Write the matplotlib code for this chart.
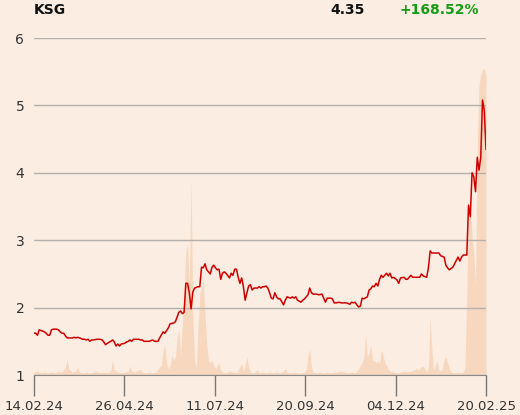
import matplotlib
matplotlib.use("Agg")
import matplotlib.pyplot as plt
import numpy as np

# ---- data ----
price_days = [0,1,2,3,5,6,7,8,9,10,11,13,14,15,16,17,18,19,21,22,23,24,25,26,28,29,30,31,32,33,34,36,37,38,39,40,41,42,44,45,46,47,48,49,50,52,53,54,55,56,57,58,60,61,62,63,64,65,66,68,69,71,72,74,75,77,78,80,81,82,83,84,85,86,87,88,89,90,91,92,94,95,96,97,98,99,100,101,102,103,104,105,106,107,108,109,110,112,113,114,115,116,117,118,119,120,121,122,123,124,125,126,128,129,130,131,132,133,134,135,136,137,138,139,140,141,143,144,145,147,148,149,150,151,153,154,155,157,158,159,160,162,163,165,166,167,168,170,171,172,173,175,176,178,179,181,182,183,184,185,186,187,188,189,191,192,193,194,195,196,197,198,199,200,202,203,204,205,206,208,209,210,212,213,214,216,217,219,221,222,223,225,226,227,228,230,232,233,235,236,237,238,240,241,243,244,245,246,248,249,250,251,252,253,254,255,256,257,258,259]
price = [1.62,1.62,1.59,1.67,1.65,1.64,1.62,1.59,1.59,1.67,1.68,1.68,1.67,1.64,1.62,1.62,1.58,1.55,1.55,1.55,1.56,1.55,1.56,1.55,1.53,1.53,1.52,1.53,1.50,1.52,1.52,1.53,1.53,1.53,1.52,1.49,1.45,1.47,1.50,1.52,1.49,1.43,1.46,1.43,1.46,1.47,1.49,1.50,1.52,1.50,1.53,1.53,1.53,1.52,1.52,1.50,1.50,1.50,1.50,1.52,1.50,1.50,1.55,1.64,1.62,1.70,1.76,1.77,1.79,1.86,1.93,1.95,1.91,1.93,2.36,2.36,2.22,1.98,2.23,2.29,2.31,2.31,2.60,2.59,2.65,2.56,2.53,2.50,2.60,2.63,2.59,2.56,2.57,2.42,2.51,2.53,2.51,2.44,2.51,2.48,2.57,2.57,2.45,2.36,2.44,2.31,2.11,2.22,2.32,2.34,2.26,2.29,2.29,2.31,2.29,2.31,2.31,2.32,2.29,2.22,2.14,2.13,2.22,2.16,2.13,2.13,2.04,2.11,2.16,2.14,2.16,2.14,2.16,2.11,2.08,2.11,2.13,2.19,2.29,2.22,2.20,2.20,2.19,2.20,2.14,2.08,2.14,2.14,2.13,2.07,2.07,2.08,2.07,2.07,2.07,2.05,2.08,2.07,2.08,2.04,2.01,2.02,2.14,2.13,2.16,2.26,2.28,2.32,2.31,2.36,2.32,2.42,2.48,2.45,2.51,2.47,2.51,2.44,2.45,2.41,2.36,2.44,2.45,2.42,2.42,2.48,2.45,2.45,2.45,2.50,2.47,2.45,2.59,2.84,2.81,2.81,2.81,2.77,2.75,2.63,2.59,2.56,2.60,2.65,2.75,2.69,2.75,2.78,2.78,3.52,3.35,4.00,3.94,3.72,4.23,4.04,4.23,5.08,4.93,4.35]

vol_days = [0,2,4,6,8,10,12,14,16,18,19,20,22,24,25,26,28,30,32,34,36,38,40,42,44,45,46,48,50,52,54,55,56,58,60,61,62,64,66,68,70,72,73,74,75,76,77,78,79,80,81,82,83,84,85,86,87,88,89,90,91,92,93,94,95,96,97,98,99,100,101,102,103,104,105,106,107,108,110,112,114,116,118,119,120,121,122,123,124,126,128,129,131,133,135,137,139,141,143,144,145,147,149,151,153,155,156,157,158,159,160,162,164,166,168,170,172,174,176,178,180,182,184,186,187,188,189,190,191,192,193,194,195,196,197,198,199,200,201,202,203,204,206,208,210,212,214,216,218,219,220,222,223,224,225,226,227,228,229,230,231,232,233,234,235,236,237,238,239,241,243,244,246,247,248,249,250,251,252,253,254,255,256,257,258,259]
volume = [3,4,2,3,2,3,2,4,3,8,16,6,3,4,8,3,2,3,2,3,4,2,3,2,4,15,5,3,2,3,4,9,4,3,5,6,3,2,3,2,3,8,10,25,30,12,6,10,20,15,18,38,45,20,50,80,125,130,90,196,60,15,8,50,80,88,95,60,30,15,12,15,10,6,10,12,5,3,2,4,3,2,8,12,4,10,18,8,3,2,5,2,3,2,3,2,3,2,4,7,3,2,3,2,2,3,6,20,26,8,3,2,3,2,3,2,3,3,4,3,2,3,2,6,10,12,18,40,18,22,30,14,15,12,14,12,25,20,12,10,6,4,3,2,3,4,3,4,5,7,5,8,9,6,3,8,57,25,5,10,14,5,4,6,15,18,12,6,3,2,3,2,3,8,85,165,175,140,120,90,230,290,300,305,307,300]

tick_labels = ["14.02.24", "26.04.24", "11.07.24", "20.09.24", "04.12.24", "20.02.25"]
y_ticks = [1, 2, 3, 4, 5, 6]
title = "KSG"
last_price = "4.35"
change = "+168.52%"

# ---- style ----
bg = "#FBEDE1"
fig = plt.figure(figsize=(5.2, 4.15), dpi=100, facecolor=bg)
ax = fig.add_axes([34/520, 40/415, 452/520, 337/415])
axv = ax.twinx()
ax.set_zorder(axv.get_zorder() + 1)
ax.patch.set_visible(False)
axv.set_facecolor(bg)

axv.fill_between(vol_days, volume, 0, color="#F7D6BC", lw=0, alpha=0.9)
axv.set_ylim(0, 337)
axv.set_yticks([])
for s in axv.spines.values():
    s.set_visible(False)

ax.plot(price_days, price, color="#D10000", lw=1.1, zorder=3)

n = price_days[-1]
ax.set_xlim(0, n)
ax.set_ylim(1, 6)
ax.set_yticks(y_ticks)
ax.set_yticklabels([str(v) for v in y_ticks])
ax.set_xticks(np.linspace(0, n, len(tick_labels)))
ax.set_xticklabels(tick_labels)
ax.grid(axis="y", color="#B5B0AB", lw=1)
ax.set_axisbelow(True)
for k in ["left", "right", "top"]:
    ax.spines[k].set_visible(False)
ax.spines["bottom"].set_color("#888888")
ax.tick_params(axis="x", length=15, width=1, color="#777777", labelsize=9.5, labelcolor="#333333", pad=3)
ax.tick_params(axis="y", length=0, labelsize=10, labelcolor="#333333", pad=7)

fig.text(34/520, 1 - 10/415, title, fontsize=10, fontweight="bold", va="center", ha="left", color="#111111")
fig.text(365/520, 1 - 10/415, last_price, fontsize=10, fontweight="bold", va="center", ha="right", color="#111111")
fig.text(479/520, 1 - 10/415, change, fontsize=10, fontweight="bold", va="center", ha="right", color="#149C14")

fig.savefig("out.png", dpi=100, facecolor=bg)
